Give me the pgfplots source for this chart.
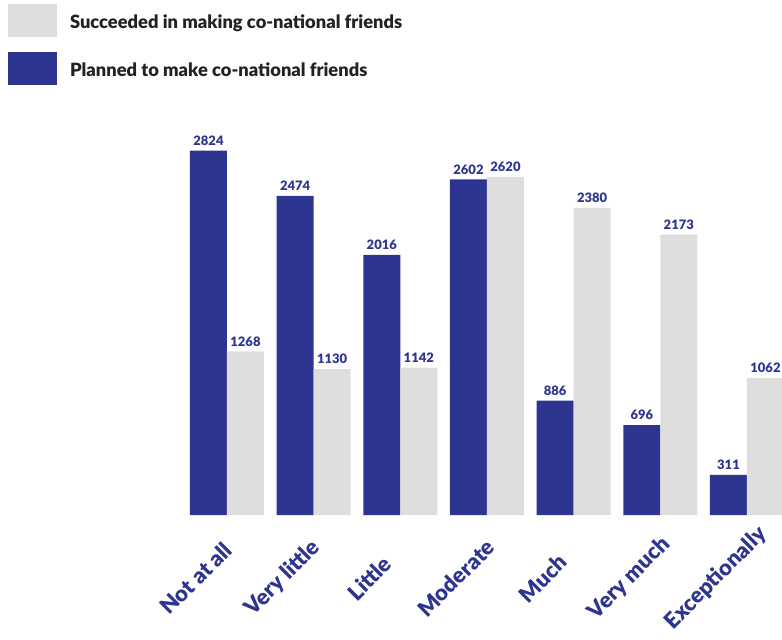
\documentclass[border=0pt]{standalone}
\usepackage{pgfplots}
\pgfplotsset{compat=1.18}
\usepackage{fontspec}
\setmainfont{Lato}[BoldFont={Lato Black}]
\definecolor{bblue}{HTML}{2E3590}
\definecolor{lgray}{HTML}{DEDEDE}
\definecolor{tdark}{HTML}{222222}
\begin{document}
\begin{tikzpicture}[x=1pt,y=1pt]
\useasboundingbox (0,0) rectangle (782,640);
\begin{axis}[
  at={(0pt,125pt)}, anchor=south west,
  scale only axis, width=782pt, height=515pt,
  xmin=-2.619, xmax=6.404, ymin=0, ymax=3992,
  axis line style={draw=none},
  tick style={draw=none},
  ytick=\empty,
  xtick={0,1,2,3,4,5,6},
  xticklabels={Not at all,Very little,Little,Moderate,Much,Very much,Exceptionally},
  xticklabel style={font=\fontsize{22}{26}\selectfont\bfseries, text=bblue, inner sep=0pt, anchor=center, xshift=-31pt, yshift=-59pt, rotate=45},
  ybar, bar width=37pt,
  /pgf/number format/assume math mode=true,
  /pgf/number format/1000 sep={},
  nodes near coords,
  every node near coord/.append style={font=\fontsize{13}{15}\selectfont\bfseries, text=bblue, inner sep=0pt, yshift=5pt},
  legend style={at={(0.0062,0.996)}, anchor=north west, draw=none, fill=none,
    font=\fontsize{18.3}{22}\selectfont\bfseries, text=tdark, row sep=15pt,
    /tikz/every odd column/.append style={column sep=11pt}},
  legend cell align=left,
  reverse legend,
]
\addplot[fill=bblue, draw=none, bar shift=-18.5pt,
  legend image code/.code={\fill[bblue] (0pt,-14.5pt) rectangle (49pt,18.5pt);}]
  coordinates {(0,2824) (1,2474) (2,2016) (3,2602) (4,886) (5,696) (6,311)};
\addlegendentry{Planned to make co-national friends}
\addplot[fill=lgray, draw=none, bar shift=18.5pt,
  legend image code/.code={\fill[lgray] (0pt,-14.5pt) rectangle (49pt,18.5pt);}]
  coordinates {(0,1268) (1,1130) (2,1142) (3,2620) (4,2380) (5,2173) (6,1062)};
\addlegendentry{Succeeded in making co-national friends}
\end{axis}
\end{tikzpicture}
\end{document}
